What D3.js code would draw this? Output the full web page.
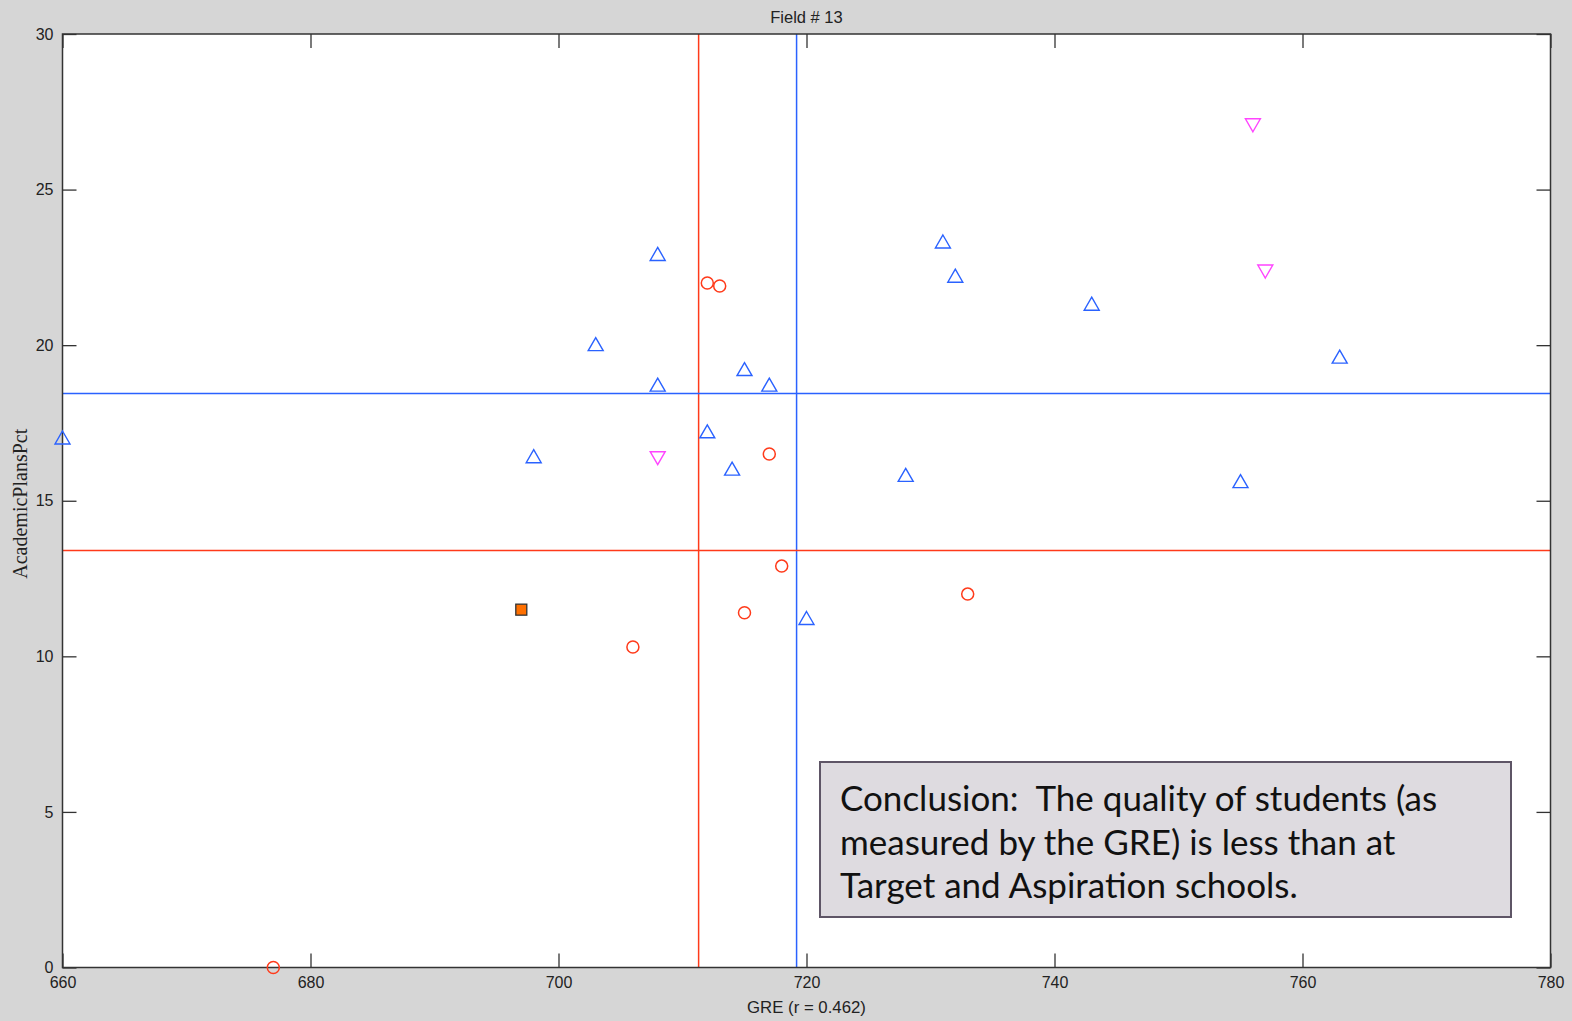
<!DOCTYPE html>
<html><head><meta charset="utf-8">
<script src="https://cdn.jsdelivr.net/npm/d3@7/dist/d3.min.js"></script>
<style>
html,body{margin:0;padding:0;background:#d6d6d6;}
svg{display:block;}
</style></head>
<body>
<script>
// ---- data ----
const xTicks = [660, 680, 700, 720, 740, 760, 780];
const yTicks = [0, 5, 10, 15, 20, 25, 30];
const peerGRE = [660, 698, 703, 708, 708, 712, 714, 715, 717, 720, 728, 731, 732, 743, 755, 763];
const peerPct = [17.0, 16.4, 20.0, 22.9, 18.7, 17.2, 16.0, 19.2, 18.7, 11.2, 15.8, 23.3, 22.2, 21.3, 15.6, 19.6];
const lowGRE = [677, 706, 712, 713, 715, 717, 718, 733];
const lowPct = [0.0, 10.3, 22.0, 21.9, 11.4, 16.5, 12.9, 12.0];
const aspGRE = [708, 756, 757];
const aspPct = [16.4, 27.1, 22.4];
const selfGRE = [697];
const selfPct = [11.5];
const peerMeanGRE = 719.2, peerMeanPct = 18.45;
const lowMeanGRE = 711.3, lowMeanPct = 13.4;
const titleText = "Field # 13";
const xLabel = "GRE (r = 0.462)";
const yLabel = "AcademicPlansPct";
const noteLines = ["Conclusion:  The quality of students (as", "measured by the GRE) is less than at", "Target and Aspiration schools."];

// ---- layout ----
const W = 1572, H = 1021;
const L = 62.5, R = 1550.5, T = 34, B = 967.5;
const BLUE = "#2a62ff", RED = "#ff3a1a", MAG = "#ff44ff", ORANGE = "#ff7000";

const svg = d3.select("body").append("svg").attr("width", W).attr("height", H);
svg.append("rect").attr("width", W).attr("height", H).attr("fill", "#d6d6d6");

const x = d3.scaleLinear().domain([660, 780]).range([L, R]);
const y = d3.scaleLinear().domain([0, 30]).range([B, T]);

svg.append("rect").attr("x", L).attr("y", T).attr("width", R - L).attr("height", B - T)
  .attr("fill", "#fff");

const tickFont = "'Liberation Sans', Arial, sans-serif";
function styleAxis(g) {
  g.select(".domain").remove();
  g.selectAll(".tick line").attr("stroke", "#333").attr("stroke-width", 1.3);
  g.selectAll(".tick text").attr("fill", "#222").style("font-family", tickFont).style("font-size", "16px");
}
svg.append("g").attr("transform", `translate(0,${B})`)
  .call(d3.axisBottom(x).tickValues(xTicks).tickSize(-14).tickPadding(9).tickFormat(d3.format("d")))
  .call(styleAxis);
svg.append("g").attr("transform", `translate(${L},0)`)
  .call(d3.axisLeft(y).tickValues(yTicks).tickSize(-14).tickPadding(9).tickFormat(d3.format("d")))
  .call(styleAxis);
svg.append("g").attr("transform", `translate(0,${T})`)
  .call(d3.axisTop(x).tickValues(xTicks).tickSize(-14).tickFormat(""))
  .call(styleAxis);
svg.append("g").attr("transform", `translate(${R},0)`)
  .call(d3.axisRight(y).tickValues(yTicks).tickSize(-14).tickFormat(""))
  .call(styleAxis);

// reference lines
svg.append("line").attr("x1", x(lowMeanGRE)).attr("x2", x(lowMeanGRE)).attr("y1", T).attr("y2", B)
  .attr("stroke", RED).attr("stroke-width", 1.5);
svg.append("line").attr("x1", x(peerMeanGRE)).attr("x2", x(peerMeanGRE)).attr("y1", T).attr("y2", B)
  .attr("stroke", BLUE).attr("stroke-width", 1.5);
svg.append("line").attr("x1", L).attr("x2", R).attr("y1", y(peerMeanPct)).attr("y2", y(peerMeanPct))
  .attr("stroke", BLUE).attr("stroke-width", 1.5);
svg.append("line").attr("x1", L).attr("x2", R).attr("y1", y(lowMeanPct)).attr("y2", y(lowMeanPct))
  .attr("stroke", RED).attr("stroke-width", 1.5);

// frame
svg.append("rect").attr("x", L).attr("y", T).attr("width", R - L).attr("height", B - T)
  .attr("fill", "none").attr("stroke", "#333").attr("stroke-width", 1.5);

// markers
const up = "M0,-7.5L7.5,5.5L-7.5,5.5Z";
const down = "M0,7.5L7.5,-5.5L-7.5,-5.5Z";
svg.append("g").selectAll("path").data(d3.range(peerGRE.length)).join("path")
  .attr("transform", i => `translate(${x(peerGRE[i])},${y(peerPct[i])})`)
  .attr("d", up).attr("fill", "none").attr("stroke", BLUE).attr("stroke-width", 1.4);
svg.append("g").selectAll("circle").data(d3.range(lowGRE.length)).join("circle")
  .attr("cx", i => x(lowGRE[i])).attr("cy", i => y(lowPct[i])).attr("r", 6)
  .attr("fill", "none").attr("stroke", RED).attr("stroke-width", 1.5);
svg.append("g").selectAll("path").data(d3.range(aspGRE.length)).join("path")
  .attr("transform", i => `translate(${x(aspGRE[i])},${y(aspPct[i])})`)
  .attr("d", down).attr("fill", "none").attr("stroke", MAG).attr("stroke-width", 1.4);
svg.append("g").selectAll("rect").data(d3.range(selfGRE.length)).join("rect")
  .attr("x", i => x(selfGRE[i]) - 5.5).attr("y", i => y(selfPct[i]) - 5.5)
  .attr("width", 11).attr("height", 11)
  .attr("fill", ORANGE).attr("stroke", "#333").attr("stroke-width", 1.3);

// titles
svg.append("text").attr("x", (L + R) / 2).attr("y", 23).attr("text-anchor", "middle")
  .style("font-family", tickFont).style("font-size", "16.5px").attr("fill", "#222").text(titleText);
svg.append("text").attr("x", (L + R) / 2).attr("y", 1013).attr("text-anchor", "middle")
  .style("font-family", tickFont).style("font-size", "16.8px").attr("fill", "#222").text(xLabel);
svg.append("text").attr("transform", `translate(27,${(T + B) / 2 + 3}) rotate(-90)`).attr("text-anchor", "middle")
  .style("font-family", "'Liberation Serif', 'Times New Roman', serif").style("font-size", "20px")
  .attr("fill", "#222").text(yLabel);

// note box
const bx = 820, by = 762, bw = 691, bh = 155;
svg.append("rect").attr("x", bx).attr("y", by).attr("width", bw).attr("height", bh)
  .attr("fill", "#dedbe0").attr("stroke", "#5e5566").attr("stroke-width", 2);
svg.append("g").selectAll("text").data(noteLines).join("text")
  .attr("x", bx + 20).attr("y", (d, i) => by + 49 + i * 43.5)
  .style("white-space", "pre")
  .style("font-family", "Lato, 'Open Sans', sans-serif").style("font-size", "35px")
  .attr("fill", "#111").text(d => d);
</script>
</body></html>
